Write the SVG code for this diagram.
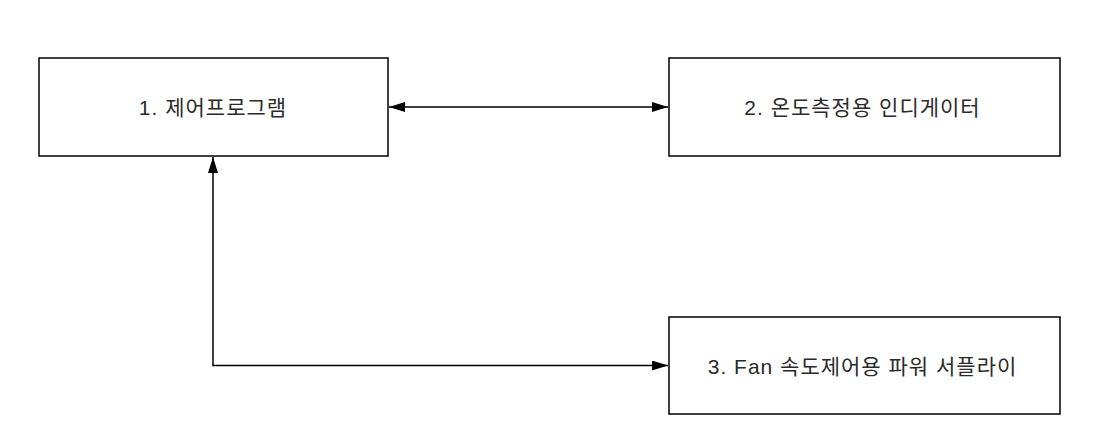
<svg xmlns="http://www.w3.org/2000/svg" width="1101" height="444" viewBox="0 0 1101 444">
<style>
.box{fill:#fff;stroke:#000;stroke-width:1.5}
.lbl{font-family:"Liberation Sans","Noto Sans CJK KR",sans-serif;font-size:21px;letter-spacing:1px;fill:#2a2a2a;text-anchor:middle;dominant-baseline:central}
.conn{fill:none;stroke:#000;stroke-width:1.5}
</style>
<defs>
<marker id="ah" viewBox="0 0 16 10" refX="16" refY="5" markerWidth="16" markerHeight="10" orient="auto-start-reverse" markerUnits="userSpaceOnUse">
<path d="M0,0 L16,5 L0,10 Z" fill="#000"/>
</marker>
</defs>
<rect width="1101" height="444" fill="#fff"/>
<g id="connectors">
<path class="conn" d="M389,107 L668,107" marker-start="url(#ah)" marker-end="url(#ah)"/>
<path class="conn" d="M213,157 L213,365.5 L668,365.5" marker-start="url(#ah)" marker-end="url(#ah)"/>
</g>
<g id="node1">
<rect class="box" x="39" y="58" width="349" height="98"/>
<text class="lbl" x="213" y="107">1. 제어프로그램</text>
</g>
<g id="node2">
<rect class="box" x="669" y="58" width="391" height="98"/>
<text class="lbl" x="862.5" y="107">2. 온도측정용 인디게이터</text>
</g>
<g id="node3">
<rect class="box" x="669" y="317" width="391" height="97"/>
<text class="lbl" x="862.5" y="366">3. Fan 속도제어용 파워 서플라이</text>
</g>
</svg>
